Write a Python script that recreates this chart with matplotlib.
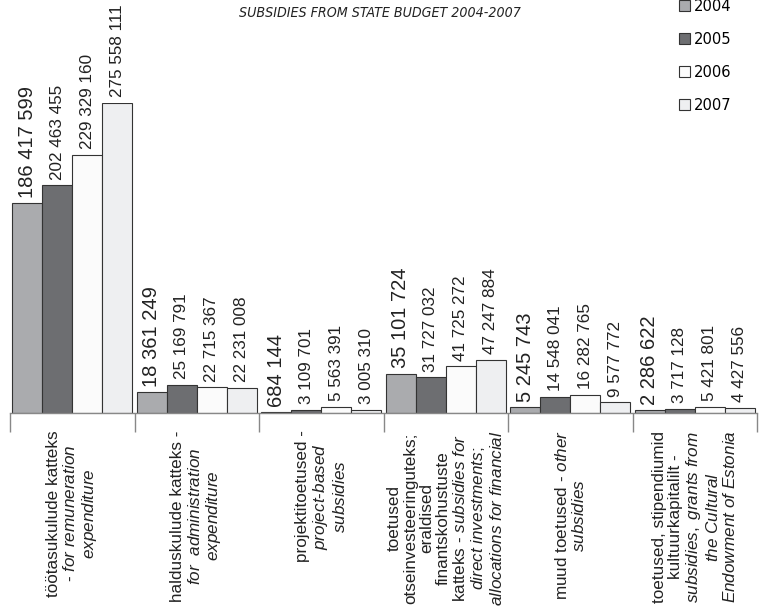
import matplotlib
matplotlib.use("Agg")
import matplotlib.pyplot as plt
from matplotlib.patches import Patch
import numpy as np

# values per category, one list per year
years = ["2004", "2005", "2006", "2007"]
v2004 = [186417599, 18361249, 684144, 35101724, 5245743, 2286622]
v2005 = [202463455, 25169791, 3109701, 31727032, 14548041, 3717128]
v2006 = [229329160, 22715367, 5563391, 41725272, 16282765, 5421801]
v2007 = [275558111, 22231008, 3005310, 47247884, 9577772, 4427556]

categories = [
    "töötasukulude katteks\n- $\\mathit{for\\ remuneration}$\n$\\mathit{expenditure}$",
    "halduskulude katteks -\n$\\mathit{for\\ \\ administration}$\n$\\mathit{expenditure}$",
    "projektitoetused -\n$\\mathit{project}$-$\\mathit{based}$\n$\\mathit{subsidies}$",
    "toetused\notseinvesteeringuteks;\neraldised\nfinantskohustuste\n"
    "katteks - $\\mathit{subsidies\\ for}$\n$\\mathit{direct\\ investments;}$\n"
    "$\\mathit{allocations\\ for\\ financial}$",
    "muud toetused - $\\mathit{other}$\n$\\mathit{subsidies}$",
    "toetused, stipendiumid\nkultuurkapitalilt -\n$\\mathit{subsidies,\\ grants\\ from}$\n"
    "$\\mathit{the\\ Cultural}$\n$\\mathit{Endowment\\ of\\ Estonia}$",
]
colors = ["#aaabae", "#6d6e71", "#fbfbfb", "#eeeff1"]

plt.rcParams['font.family'] = ['Liberation Sans', 'DejaVu Sans']
plt.rcParams['mathtext.fontset'] = 'custom'
plt.rcParams['mathtext.rm'] = 'Liberation Sans'
plt.rcParams['mathtext.it'] = 'Liberation Sans:italic'

fig = plt.figure(figsize=(7.62, 6.06), dpi=100)
ax = fig.add_axes([10 / 762, 193 / 606, 747 / 762, 310 / 606])

x = np.arange(len(categories))
w = 0.241
series = [v2004, v2005, v2006, v2007]
for j, vals in enumerate(series):
    pos = x + (j - 1.5) * w
    ax.bar(pos, vals, width=w, color=colors[j], edgecolor="#333333",
           linewidth=0.8, label=years[j])
    for p, v in zip(pos, vals):
        txt = f"{v:,}".replace(",", " ")
        ax.annotate(txt, (p, v), xytext=(0, 4), textcoords="offset points",
                    rotation=90, ha="center", va="bottom",
                    fontsize=14.5 if j == 0 else 12.3, color="#222222")

ax.set_xlim(-0.5, len(categories) - 0.5)
ax.set_ylim(0, max(v2007))
for s in ["top", "left", "right"]:
    ax.spines[s].set_visible(False)
ax.spines["bottom"].set_color("#888888")
ax.spines["bottom"].set_linewidth(1.0)
ax.set_yticks([])
ax.set_xticks(np.arange(-0.5, len(categories), 1.0))
ax.set_xticklabels([])
ax.tick_params(axis="x", length=13.5, width=1.0, color="#888888", direction="out")

for i, lab in enumerate(categories):
    ax.annotate(lab, (i, 0), xycoords=("data", "axes fraction"),
                xytext=(0, -12.5), textcoords="offset points",
                rotation=90, ha="center", va="top", multialignment="center",
                fontsize=12.3, linespacing=1.1, color="#222222")

fig.text(380 / 762, 1 - 13 / 606, "SUBSIDIES FROM STATE BUDGET 2004-2007",
         ha="center", va="center", style="oblique", family="DejaVu Sans",
         fontstretch="condensed", fontsize=10.2, color="#222222")

handles = [Patch(facecolor=c, edgecolor="#333333", linewidth=0.8, label=y)
           for c, y in zip(colors, years)]
fig.legend(handles=handles, loc="upper left", bbox_to_anchor=(679 / 762, 1 + 1 / 606),
           frameon=False,
           prop={"family": "DejaVu Sans", "stretch": "condensed", "size": 11.8},
           handlelength=0.68, handleheight=0.68, handletextpad=0.25,
           labelspacing=1.1, borderaxespad=0, borderpad=0)

fig.savefig("out.png", dpi=100)
